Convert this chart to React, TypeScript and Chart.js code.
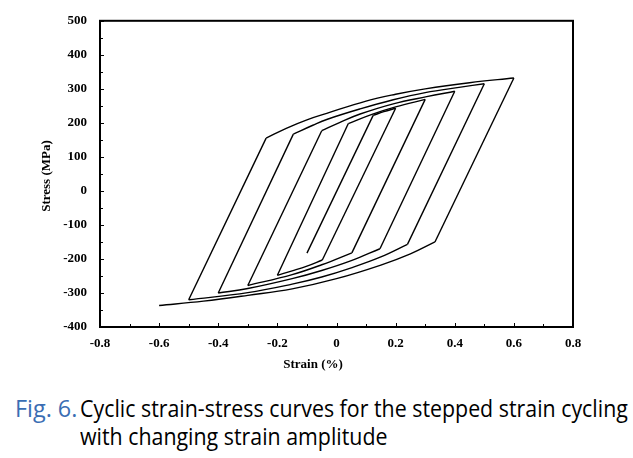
import React, { useEffect, useLayoutEffect, useRef, useState } from 'react';
import { Chart, registerables } from 'chart.js';

Chart.register(...registerables);

// Axis ticks
const xTicks = [-0.8, -0.6, -0.4, -0.2, 0, 0.2, 0.4, 0.6, 0.8];
const xTickLabels = ['-0.8', '-0.6', '-0.4', '-0.2', '0', '0.2', '0.4', '0.6', '0.8'];
const yTicks = [-400, -300, -200, -100, 0, 100, 200, 300, 400, 500];
const yTickLabels = ['-400', '-300', '-200', '-100', '0', '100', '200', '300', '400', '500'];

// Branches of the stepped strain path: [strain %, stress MPa]
// each branch: start tip, elastic end (corner), plastic points..., end tip
const up1: number[][] = [[-0.1, -183], [0.124, 222], [0.16, 233], [0.2, 243]];
const down2: number[][] = [[0.2, 243], [-0.048, -203], [-0.1, -221], [-0.15, -235], [-0.2, -248]];
const up2: number[][] = [[-0.2, -248], [0.04, 198], [0.12, 225], [0.2, 247], [0.3, 269]];
const down3: number[][] = [[0.3, 269], [0.052, -182], [-0.05, -217], [-0.15, -246], [-0.3, -278]];
const up3: number[][] = [[-0.3, -278], [-0.05, 177], [0.01, 201], [0.08, 226], [0.192, 256], [0.305, 277], [0.4, 293]];
const down4: number[][] = [[0.4, 293], [0.147, -170], [0.05, -205], [-0.05, -234], [-0.15, -258], [-0.3, -287], [-0.4, -300]];
const up4: number[][] = [[-0.4, -300], [-0.146, 167], [-0.08, 193], [-0.033, 210], [0.08, 241], [0.192, 268], [0.3, 289], [0.42, 305], [0.5, 315]];
const down5: number[][] = [[0.5, 315], [0.24, -157], [0.15, -194], [0.05, -226], [-0.05, -253], [-0.15, -274], [-0.3, -299], [-0.5, -320]];
const up5: number[][] = [[-0.5, -320], [-0.238, 155], [-0.17, 184], [-0.1, 209], [-0.033, 228], [0.1, 264], [0.2, 284], [0.3, 300], [0.45, 318], [0.6, 332]];
const down6: number[][] = [[0.6, 332], [0.333, -150], [0.25, -185], [0.15, -218], [0.0, -258], [-0.15, -288], [-0.3, -307], [-0.45, -324], [-0.6, -337]];

const branches = [up1, down2, up2, down3, up3, down4, up4, down5, up5, down6];

const TICK_FONT = { family: "'Liberation Serif', 'Times New Roman', serif", size: 13, weight: 'bold' as const };

const framePlugin = {
  id: 'frameAndTitles',
  afterDraw(chart: any) {
    const { ctx, chartArea } = chart;
    const { left, right, top, bottom } = chartArea;
    const xs = chart.scales.x;
    const ys = chart.scales.y;
    ctx.save();
    ctx.strokeStyle = '#000';
    // inward tick marks
    ctx.lineWidth = 1;
    ctx.beginPath();
    for (let i = 0; i < xTicks.length; i++) {
      const px = Math.round(xs.getPixelForValue(xTicks[i])) + 0.5;
      ctx.moveTo(px, bottom);
      ctx.lineTo(px, bottom - 4);
      if (i < xTicks.length - 1) {
        const mx = Math.round(xs.getPixelForValue((xTicks[i] + xTicks[i + 1]) / 2)) + 0.5;
        ctx.moveTo(mx, bottom);
        ctx.lineTo(mx, bottom - 3);
      }
    }
    for (let i = 0; i < yTicks.length; i++) {
      const py = Math.round(ys.getPixelForValue(yTicks[i])) + 0.5;
      ctx.moveTo(left, py);
      ctx.lineTo(left + 4, py);
      if (i < yTicks.length - 1) {
        const my = Math.round(ys.getPixelForValue((yTicks[i] + yTicks[i + 1]) / 2)) + 0.5;
        ctx.moveTo(left, my);
        ctx.lineTo(left + 3, my);
      }
    }
    ctx.stroke();
    // frame
    ctx.lineWidth = 2;
    ctx.strokeRect(left, top, right - left, bottom - top);
    // titles
    ctx.fillStyle = '#000';
    ctx.font = "bold 13px 'Liberation Serif', 'Times New Roman', serif";
    ctx.textAlign = 'center';
    ctx.textBaseline = 'middle';
    ctx.fillText('Strain (%)', 313, 365);
    ctx.translate(47, 176);
    ctx.rotate(-Math.PI / 2);
    ctx.fillText('Stress (MPa)', 0, 0);
    ctx.restore();
  },
};

export default function App() {
  const canvasRef = useRef<HTMLCanvasElement>(null);
  const lineRef = useRef<HTMLSpanElement>(null);
  const figRef = useRef<HTMLSpanElement>(null);
  const [k, setK] = useState(1);
  const [kf, setKf] = useState(1);

  useLayoutEffect(() => {
    if (lineRef.current) {
      const w = lineRef.current.offsetWidth;
      if (w > 0) setK(548 / w);
    }
    if (figRef.current) {
      const w = figRef.current.offsetWidth;
      if (w > 0) setKf(62 / w);
    }
  }, []);

  useEffect(() => {
    if (!canvasRef.current) return;
    const datasets: any[] = [];
    branches.forEach((b) => {
      datasets.push({
        data: b.slice(0, 2).map(([x, y]) => ({ x, y })),
        showLine: true,
        borderColor: '#000',
        borderWidth: 1.4,
        pointRadius: 0,
        tension: 0,
      });
      datasets.push({
        data: b.slice(1).map(([x, y]) => ({ x, y })),
        showLine: true,
        borderColor: '#000',
        borderWidth: 1.4,
        pointRadius: 0,
        tension: 0.4,
      });
    });

    const chart = new Chart(canvasRef.current, {
      type: 'scatter',
      data: { datasets },
      options: {
        animation: false,
        responsive: false,
        maintainAspectRatio: false,
        layout: { padding: { left: 0, right: 60, top: 17, bottom: 0 } },
        plugins: { legend: { display: false }, tooltip: { enabled: false } },
        scales: {
          x: {
            type: 'linear',
            min: -0.8,
            max: 0.8,
            grid: { display: false, drawTicks: false },
            border: { display: false },
            afterBuildTicks: (s: any) => {
              s.ticks = xTicks.map((v) => ({ value: v }));
            },
            afterFit: (s: any) => {
              s.height = 58;
            },
            ticks: {
              callback: (_v: any, i: number) => xTickLabels[i],
              font: TICK_FONT,
              color: '#000',
              padding: 9,
              maxRotation: 0,
              autoSkip: false,
            },
          },
          y: {
            type: 'linear',
            min: -400,
            max: 500,
            grid: { display: false, drawTicks: false },
            border: { display: false },
            afterBuildTicks: (s: any) => {
              s.ticks = yTicks.map((v) => ({ value: v }));
            },
            afterFit: (s: any) => {
              s.width = 100;
            },
            ticks: {
              callback: (_v: any, i: number) => yTickLabels[i],
              font: TICK_FONT,
              color: '#000',
              padding: 13,
              autoSkip: false,
            },
          },
        },
      },
      plugins: [framePlugin],
    } as any);
    return () => chart.destroy();
  }, []);

  const capFont: React.CSSProperties = {
    fontFamily: "'Open Sans', 'Noto Sans', sans-serif",
    fontSize: 23,
    lineHeight: '28px',
    whiteSpace: 'nowrap',
    position: 'absolute',
    transformOrigin: 'left center',
  };

  return (
    <div style={{ position: 'absolute', left: 0, top: 0, width: 633, height: 458, background: '#fff', overflow: 'hidden' }}>
      <canvas ref={canvasRef} width={633} height={385} style={{ position: 'absolute', left: 0, top: 0, width: 633, height: 385 }} />
      <div style={{ ...capFont, left: 15, top: 394, color: '#3a6db3', transform: `scaleX(${kf})` }}>
        <span ref={figRef}>Fig. 6.</span>
      </div>
      <div style={{ ...capFont, left: 80, top: 394, color: '#000', transform: `scaleX(${k})` }}>
        <span ref={lineRef}>Cyclic strain-stress curves for the stepped strain cycling</span>
      </div>
      <div style={{ ...capFont, left: 80, top: 422, color: '#000', transform: `scaleX(${k})` }}>with changing strain amplitude</div>
    </div>
  );
}
